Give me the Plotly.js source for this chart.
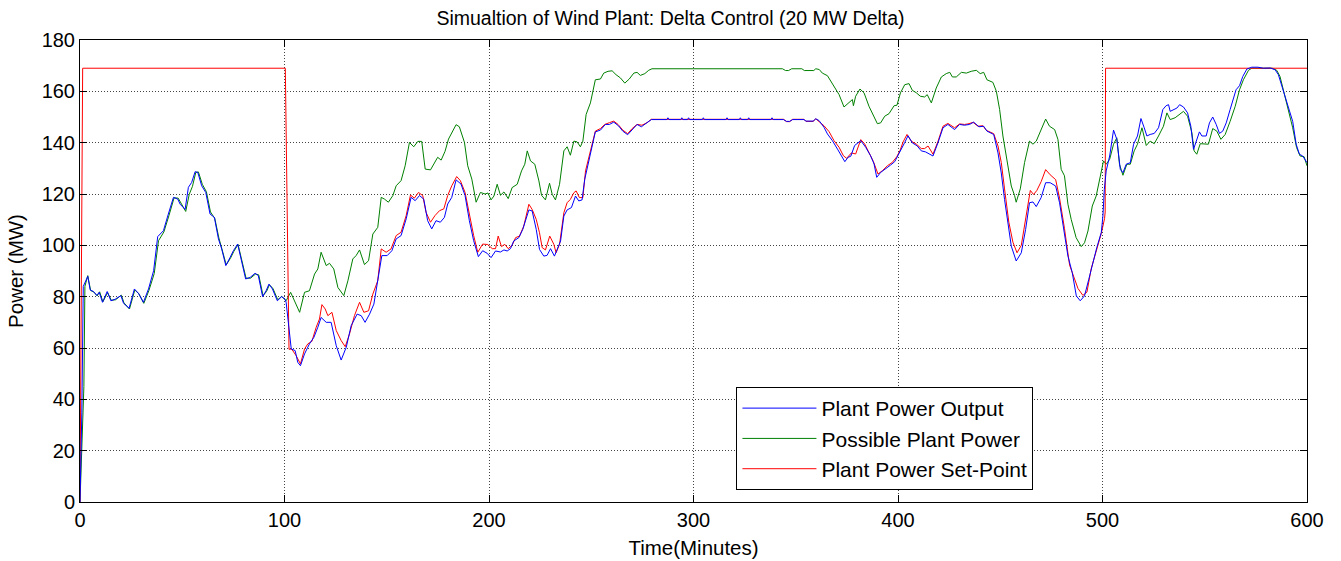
<!DOCTYPE html>
<html>
<head>
<meta charset="utf-8">
<script src="https://cdn.plot.ly/plotly-3.0.1.min.js"></script>
<style>
  html, body { margin: 0; padding: 0; background: #fff; }
  #chart { width: 1341px; height: 561px; }
</style>
</head>
<body>
<div id="chart"></div>
<script>
// Wind plant simulation, delta control with a 20 MW reserve.
// Each series is a list of [minute, MW] samples.

const seriesNames = ['Plant Power Output', 'Possible Plant Power', 'Plant Power Set-Point'];

const outputPoints = [
  [0,0],[0.9,35],[1.6,84],[2.5,85.6],[3.8,87.9],[5,82.6],[6.6,82],[8.2,80.5],[9.4,81.7],[11,77.8],
  [13.3,82],[15.1,78.4],[17.2,79],[20,80.4],[21.3,77.4],[24,75.5],[26.6,83],[28.6,81.3],[31,77.8],[33.5,83],
  [36,90.1],[38,103.4],[40.8,105.7],[43.2,112.2],[45.7,118.7],[47.8,118],[49,116],[51.4,114],[53,122.6],[54.6,124.5],
  [56.3,128.7],[57.6,128.4],[59.5,123.2],[61.5,120.6],[63.6,112.2],[65.7,110.9],[67.7,102.5],[69.3,98.6],[71.3,92.1],[73.4,95.3],
  [75,97.9],[77.1,100.5],[79.1,93.4],[81,86.9],[83.2,87.5],[85.6,89.1],[87.2,88.2],[89.3,80],[91,82.3],[92.4,84.9],
  [94.1,83],[96.5,78.4],[98.6,80],[100.2,79.1],[100.8,77.8],[102.5,65.5],[103.3,59.6],[105.2,59],[106.5,54.4],[107.8,53.1],
  [109.8,57.7],[112.2,61.6],[114.4,64.2],[116.3,68.1],[117.9,71.9],[120.4,70],[122.8,70],[125.3,60.9],[127.7,55.3],[130.2,60.3],
  [132.6,68.7],[135.5,73.2],[137.5,72.6],[139.4,70],[141.6,73.2],[143.7,77.1],[145.6,85.6],[147.6,96],[150.2,96],[152.5,97.9],
  [154.6,102.5],[157,103.8],[159.5,110.3],[161.9,118.7],[163.9,117.4],[166,119.4],[168.1,118],[170,109.6],[172,106.4],[174.1,109.6],
  [176.2,109],[178.2,110.9],[179.8,116.1],[181.8,118.7],[183.9,125.5],[186.3,123.9],[188.3,119.4],[190.4,109.6],[192.5,101.8],[194.8,95.6],
  [196.9,97.9],[199.1,96.9],[201,95.2],[203.2,97.8],[205.6,97.4],[207.3,98.2],[208.9,97.8],[210.5,98.7],[212.1,101.7],[214.6,103],
  [216.5,106.2],[218.2,110.1],[219.5,113.8],[221.1,113.4],[223.1,106.2],[224.7,98.4],[226.8,95.8],[228.4,96.1],[230.1,98.7],[232,95.8],
  [233.3,98.4],[235,101.7],[236.6,111.4],[238.2,113.8],[240.3,114.7],[242.3,119.2],[243.9,117.3],[245.5,117.7],[246.8,125.7],[248.8,132.9],
  [250.4,138.7],[252,144.2],[254.5,144.9],[256.9,147.1],[258.9,147.1],[261,148],[263.4,146.5],[265.4,144.5],[267.8,143.1],[270,145.2],
  [272.4,147.1],[274.5,146.2],[276.6,147.4],[279.4,149],[287,149],[287.5,149.7],[288,149],[293.8,149],[294.3,149.7],[294.8,149],
  [297.1,149],[297.6,149.7],[298.1,149],[304.3,149],[304.8,149.7],[305.3,149],[315.9,149],[316.4,149.7],[316.9,149],[322.4,149],
  [322.9,149.7],[323.4,149],[326.5,149],[327,149.7],[327.5,149],[337.9,149],[338.4,149.7],[338.9,149],[344,149],[345.5,148.3],
  [347,148.3],[348.5,149],[354,149],[355,148.4],[358.5,148.4],[359.8,149.3],[361.4,148.6],[363.8,146],[365.5,143.4],[367.9,140.8],
  [370.4,137.5],[372.3,134.9],[374,132.6],[375.6,134.3],[376.9,134.7],[378.8,138.9],[381.8,140.8],[384.2,138.2],[386.6,134.9],[388.3,131.7],
  [389.6,126.5],[391.5,128.4],[394,129.7],[396.4,131.3],[398.4,132.6],[400.5,135.6],[401.2,136.8],[403.3,140.1],[404.9,142.7],[407,139.9],
  [409.3,138.8],[411.4,136.8],[413.5,136.4],[415.5,135.5],[417.1,134.8],[419.6,140.1],[422,145.8],[424.4,147.1],[427.7,145.1],[430.1,147.1],
  [432.5,146.8],[435,147.1],[437,148],[439.6,146.2],[441.9,146.4],[443.5,144.5],[446.8,143.2],[448.9,136],[450.5,128.2],[452.1,117.9],
  [453.8,108.8],[455.4,99.7],[457.8,93.9],[460.3,97.1],[462.4,106.2],[464.3,116.6],[466,116.9],[467.6,115.1],[470,118.6],[472.2,124.4],
  [474.4,124.4],[477.1,123.1],[479,116.6],[480.9,106.2],[483.1,95.8],[485.2,89.4],[487.2,80.3],[489.1,78.4],[491.2,80.3],[493.3,86.8],
  [495.3,93.2],[497.2,99.1],[499.4,105],[500.2,111.4],[500.9,121.8],[501.8,129],[503.5,134.8],[505.4,144.9],[507,141.3],[508.7,129.6],
  [510,128.3],[511.6,131.6],[513.6,132.2],[515.2,139.4],[517.1,142.6],[518.8,149.4],[520.4,145.8],[521.7,142.6],[523.3,143.2],[525.3,143.6],
  [527.4,145.8],[529.5,152.9],[531.1,154.4],[532.3,154.8],[533.1,152.2],[534.7,152.9],[536.4,153.5],[537.7,154.8],[539.6,153.9],[541.6,151.6],
  [543.2,146.4],[544.5,137.4],[546.1,141.3],[547.4,144.2],[548.6,142.6],[550.7,142.6],[552.3,147.7],[553.9,150],[555.6,147.1],[557.2,143.6],
  [558.8,144.5],[560.5,147.7],[562.4,152.9],[564,156.8],[565.3,160.6],[567,162.2],[568.6,165.8],[570.6,168.7],[573,169.4],[576,169.4],
  [578.7,169],[582,169.1],[584.4,168.4],[586,166.5],[587.7,162],[589.3,157.4],[591.4,152.2],[593,148.3],[594.7,139.4],[596.3,135.5],
  [597.9,134.8],[600,132.2]
];

const possiblePoints = [
  [0,0],[1.9,45],[2.4,84],[3.8,88.2],[5.2,82.4],[6.8,81.8],[8.4,80.3],[9.6,81.9],[11.2,78],[13.5,81.6],
  [15.3,78.6],[17.4,78.8],[20.2,80.6],[21.5,77.6],[24.2,75.2],[26.8,82.6],[28.8,81.1],[31.2,77.4],[33.7,82.4],[36.3,89],
  [38.4,101.8],[41,105.2],[43.5,111.6],[46,118.5],[48,118.4],[49.5,116.5],[51.7,113.2],[53.4,119.8],[55,123],[56.6,128.4],
  [57.9,128.6],[59.8,123.8],[61.8,120.9],[63.8,113],[65.9,110.5],[67.9,102.9],[69.5,98.2],[71.5,92.4],[73.6,95],[75.2,97.6],
  [77.3,100.3],[79.3,94],[81.2,87.2],[83.4,87.2],[85.8,88.8],[87.4,88.5],[89.5,80.4],[91.2,82],[92.6,84.6],[94.3,83.3],
  [96.7,78.8],[98.6,80.1],[100.8,78.4],[103,81.7],[104.9,78.4],[107.4,73.9],[109.8,81.7],[112.2,82.3],[114.7,88.8],[116.3,90.8],
  [117.9,97.3],[120.4,92.1],[122,93],[124.1,90.8],[126.1,83.6],[129,80.4],[131,86.2],[133.4,94.7],[135,96],[136.7,98.2],
  [139.1,92.5],[141.1,94],[143.2,104.4],[145.6,107],[147.3,118.7],[148.9,118],[150.8,116.8],[153,119.4],[154.6,123.2],[157,125.2],
  [159,131],[161.1,140.1],[163.2,138.4],[165.2,140.5],[167.1,140.5],[168.8,129.7],[171.4,129.4],[173.3,132.3],[174.9,134.3],[176.6,133.2],
  [178.5,136.6],[180.2,141.4],[182.3,144.7],[183.9,147],[185.5,146.2],[188,140.1],[189.6,131],[191.6,125.8],[193.7,116.8],[195.8,120.6],
  [198.1,120],[199.5,120.4],[201,117.7],[202.4,119.2],[204,123.8],[205.6,119.5],[207.3,120.8],[209.4,118.2],[211.3,122.5],[213.8,123.8],
  [215.9,129],[217.5,131.6],[218.7,136.8],[220.3,132.9],[222.4,131.6],[224.4,125.1],[225.7,119.5],[227.6,117.7],[229.6,124.2],[230.9,119.9],
  [232.5,117.7],[234.5,123.8],[236.6,136.8],[238.2,138.4],[239.8,135.1],[241.5,140.6],[243.1,140.3],[244.7,138.4],[245.9,140.6],[247.5,151],
  [249.6,155.5],[250.7,160],[252,164.5],[254.5,164.8],[256.1,167.1],[258.2,167.8],[260.2,168],[262.1,166.5],[264.3,165.2],[266.4,163.2],
  [268.6,164.8],[270.8,167.1],[272.4,167.4],[274,166.2],[276.2,166.9],[278.1,168.2],[279.7,168.8],[343.5,168.8],[345,168.1],[346.5,168.1],
  [348,168.8],[353,168.8],[354.2,168.1],[358.8,168.1],[359.8,168.8],[361.5,168.5],[363,167.1],[365.5,166.1],[367.1,163.9],[369,161.7],
  [371.2,158.7],[373.6,153.9],[376.1,155.5],[377.7,156.8],[378.2,154.4],[379.3,158.1],[381.4,160.9],[383.4,159.4],[385.8,154.2],[388.3,150.3],
  [389.9,147.4],[391.5,147.7],[393.5,150.3],[395.6,151.3],[398.1,154.4],[399.5,154.6],[401.2,159.4],[403.3,162.6],[405.4,163],[407,160.4],
  [409,159.4],[410.9,158.1],[413,157.8],[414.3,158.7],[416.3,155.5],[418.7,161.3],[421.2,165.6],[423.6,166.9],[425.3,167.4],[426.6,165.6],
  [428.5,165.6],[431,167.4],[433.4,167.1],[435.8,167.8],[438.3,168.2],[440.2,166.9],[441.9,167.4],[443.5,164.5],[446.4,163.5],[448.1,160],
  [449.7,152.9],[451.3,142.6],[453.3,133.5],[455.4,123.1],[457,119.4],[457.8,116.8],[459.8,122],[461.9,132.3],[464.3,140.6],[466,139.4],
  [467.6,140.6],[469.6,144.5],[472.2,149.2],[474.1,146.4],[476.6,145.1],[478.2,141.3],[479.8,129.6],[481.4,127.1],[483.1,116],[484.7,110.1],
  [487.1,103],[489.6,99.5],[491.2,101],[492.9,105.6],[495,115.3],[496.9,119.2],[498.6,126.4],[500.5,132.9],[501.8,131.6],[503.5,133.5],
  [505.4,139.4],[507,141.9],[508.3,131.6],[510,127.3],[511.9,131.6],[513.6,131.6],[515.5,136.8],[517.1,139.4],[519.3,145.8],[521.4,138.9],
  [523.3,140.6],[525.3,139.6],[527.4,142.6],[529.8,146.4],[531.5,151.6],[533.1,149],[535.5,149.7],[537.7,151],[539.6,152.2],[541.6,150.3],
  [543.7,143.9],[544.8,136.8],[546.1,135.5],[547.8,139.6],[549.7,139.4],[551.8,139.4],[553.9,145.5],[555.9,144.5],[557.9,141.3],[560,143.2],
  [562.4,148.3],[564.9,154.2],[567,160.6],[568.9,164.5],[571.4,168.2],[573,169],[583,169],[585.2,168.2],[586.8,165.8],[588.8,159.4],
  [590.9,152.9],[593,145.8],[594.9,138.1],[596.6,134.8],[598.6,134.5],[600,131]
];

const setpointPoints = [
  [0,0],[1.3,169],[100.4,169],[102.2,59.5],[103.5,59.6],[105.7,57],[107.8,53.8],[109.8,59.6],[111.4,61.6],[113.4,62.6],
  [115.5,68.1],[117.1,71.3],[118.3,76.9],[119.9,75.2],[121.2,72.6],[123.2,73.9],[125.3,66.8],[127.7,62.9],[129.7,60.5],[131.8,65.5],
  [134.2,72.6],[136.7,77.8],[138.8,73.9],[141.1,74.5],[143.2,81],[145.6,86.2],[147.3,98.6],[149.7,97.3],[152.1,98.6],[154.6,103.8],
  [157,105.1],[159.5,111.6],[161.6,119.6],[163.5,118.4],[165.5,120.6],[167.6,119.4],[169.2,112.9],[171.4,109],[173.6,111.6],[175.8,113.5],
  [177.9,114.2],[179.8,119.4],[181.8,123.2],[184.2,126.8],[186,125.2],[188.3,120.6],[190.4,112.2],[192.5,103.8],[194.5,97.3],[196.9,100.5],
  [199.4,100.3],[201.6,98.7],[203.2,98.7],[204.5,103.6],[206.1,99.5],[207.7,100.4],[209.4,98.7],[211.3,100],[213,103],[214.9,103.6],
  [217,107.5],[218.2,111.4],[219.5,116],[221.1,114],[223.1,110.1],[224.7,104.9],[226,99.1],[227.6,98.2],[229.7,103.6],[231.7,100.4],
  [232.8,97.1],[234.5,100.4],[236.6,112.7],[238.2,116.6],[239.8,117.9],[241.5,120.5],[242.6,121.2],[244.2,118.6],[245.9,118.6],[247.2,129],
  [249.1,134.8],[250.7,140],[252,144.5],[254.5,145.5],[256.6,147.1],[258.9,147.8],[261,148.4],[263.1,147.1],[265.4,144.9],[267.8,143.5],
  [270,145.5],[272.4,147.1],[274.8,146.8],[277.3,147.8],[279.4,149.1],[344,149.1],[345.5,148.2],[347,148.2],[348.5,149.1],[354,149.1],
  [355,148.3],[358.5,148.3],[359.8,149.3],[361.4,148.2],[363.8,146.6],[366.3,144.3],[368.7,140.8],[371.2,138.2],[373.3,134.9],[374.9,133.9],
  [377.2,136],[379.3,135.6],[381.8,141.2],[383.7,139.5],[385.8,136.2],[388,132.6],[390.2,127.8],[392.4,129.1],[394.8,131],[397.2,132.3],
  [399.4,134.5],[401,137],[402.5,140.3],[404.4,143.2],[406.5,140.6],[409,139.4],[411.4,137.7],[413,137.7],[414.7,138.7],[417.1,135.5],
  [419.6,140.6],[422,146.4],[424.4,147.5],[427.7,145.8],[430.1,147.3],[432.5,147.1],[434.2,147.3],[436.7,147.9],[439.1,146.4],[441.5,146.6],
  [443.2,144.8],[446.8,143.5],[448.9,138.7],[450.5,132.3],[452.1,122],[454.2,109],[456.2,101.2],[458.2,97.1],[460.3,100],[462.4,110.4],
  [464.7,121.4],[466.3,119.8],[467.9,121.4],[470,124.8],[472.2,129.5],[474.4,127.5],[477.1,125.6],[479,118.4],[481.4,106.6],[483.9,92.3],
  [485.5,88.4],[488,83.2],[490.4,80.5],[492.4,81.8],[494.5,91],[497,97.5],[499.4,104.6],[501,110.4],[501.3,113],[501.5,169],
  [600,169]
];

const seriesColors = ['#0000ff', '#008000', '#ff0000'];
const xTicks = [0, 100, 200, 300, 400, 500, 600];
const yTicks = [0, 20, 40, 60, 80, 100, 120, 140, 160, 180];

const FONT = '"Liberation Sans", Arial, Helvetica, sans-serif';

function lineTrace(points, name, color, rank) {
  return {
    type: 'scatter',
    mode: 'lines',
    name: name,
    legendrank: rank,
    x: points.map(p => p[0]),
    y: points.map(p => p[1]),
    line: { color: color, width: 1 },
    hoverinfo: 'x+y+name'
  };
}

// Drawing order: possible power, set-point, then output on top.
// Legend order follows the series names.
const data = [
  lineTrace(possiblePoints, seriesNames[1], seriesColors[1], 2),
  lineTrace(setpointPoints, seriesNames[2], seriesColors[2], 3),
  lineTrace(outputPoints, seriesNames[0], seriesColors[0], 1)
];

const axisCommon = {
  showline: true,
  linecolor: '#000',
  linewidth: 1,
  mirror: 'allticks',
  ticks: 'inside',
  ticklen: 7,
  tickcolor: '#000',
  tickwidth: 1,
  showgrid: true,
  gridcolor: '#444',
  gridwidth: 1,
  griddash: '1px,2px',
  zeroline: false,
  tickfont: { family: FONT, size: 20, color: '#000' }
};

const layout = {
  width: 1341,
  height: 561,
  paper_bgcolor: '#fff',
  plot_bgcolor: '#fff',
  margin: { l: 80, r: 34, t: 40, b: 59 },
  title: {
    text: 'Simualtion of Wind Plant: Delta Control (20 MW Delta)',
    font: { family: FONT, size: 19.5, color: '#000' },
    x: 0.5, xanchor: 'center',
    y: 0.968, yanchor: 'middle'
  },
  xaxis: Object.assign({}, axisCommon, {
    range: [0, 600],
    tickvals: xTicks,
    ticktext: xTicks.map(String),
    title: { text: 'Time(Minutes)', font: { family: FONT, size: 20.5, color: '#000' }, standoff: 10 }
  }),
  yaxis: Object.assign({}, axisCommon, {
    range: [0, 180],
    tickvals: yTicks,
    ticktext: yTicks.map(String),
    title: { text: 'Power (MW)', font: { family: FONT, size: 20.5, color: '#000' }, standoff: 12 }
  }),
  showlegend: true,
  legend: {
    x: 0.535, xanchor: 'left',
    y: 0.249, yanchor: 'top',
    bgcolor: '#fff',
    bordercolor: '#000',
    borderwidth: 1,
    font: { family: FONT, size: 21, color: '#000' },
    itemwidth: 74,
    traceorder: 'normal',
    tracegroupgap: 0
  }
};

Plotly.newPlot('chart', data, layout, { displayModeBar: false, staticPlot: true });
</script>
</body>
</html>
